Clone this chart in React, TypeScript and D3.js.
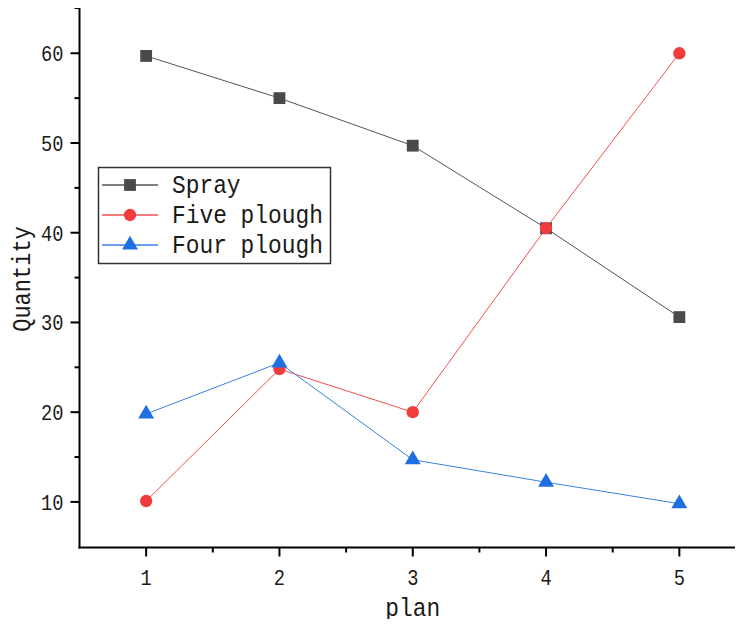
import React, { useRef, useEffect } from "react";
import * as d3 from "d3";

const plans = [1, 2, 3, 4, 5];
const spray = [59.7, 55.0, 49.7, 40.5, 30.6];
const fivePlough = [10.1, 24.8, 20.0, 40.5, 60.0];
const fourPlough = [19.8, 25.5, 14.7, 12.2, 9.8];
const yTicks = [10, 20, 30, 40, 50, 60];
const yMinor = [15, 25, 35, 45, 55];
const xMinor = [1.5, 2.5, 3.5, 4.5];

const seriesList = [
  { name: "Spray", values: spray, color: "#4a4a4a", line: "#555", symbol: d3.symbolSquare, size: 140 },
  { name: "Five plough", values: fivePlough, color: "#f03c3c", line: "#f05050", symbol: d3.symbolCircle, size: 120 },
  { name: "Four plough", values: fourPlough, color: "#1f6fe3", line: "#3a80e6", symbol: d3.symbolTriangle, size: 110 },
];

const font = "'Liberation Mono', 'DejaVu Sans Mono', monospace";

function App() {
  const ref = useRef<SVGSVGElement>(null);

  useEffect(() => {
    const svg = d3.select(ref.current);
    svg.selectAll("*").remove();

    const left = 79.5;
    const right = 746;
    const top = 7.5;
    const bottom = 547.5;

    const x = d3.scaleLinear().domain([0.5, 5.5]).range([left, right]);
    const y = d3.scaleLinear().domain([4.92, 65.1]).range([bottom, top]);

    // narrow tall text, like the original's font
    const label = (g: any, tx: number, ty: number, txt: string, size: number, anchor: string, sx: number, rot = 0) =>
      g.append("text")
        .attr("transform", `translate(${tx},${ty}) rotate(${rot}) scale(${sx},1)`)
        .attr("text-anchor", anchor).attr("font-family", font).attr("font-size", size)
        .attr("fill", "#1a1a1a").text(txt);

    // axes
    svg.append("line").attr("x1", left).attr("x2", left).attr("y1", top).attr("y2", bottom + 1)
      .attr("stroke", "#000").attr("stroke-width", 2);
    svg.append("line").attr("x1", left - 1).attr("x2", 743).attr("y1", bottom).attr("y2", bottom)
      .attr("stroke", "#000").attr("stroke-width", 2);
    svg.append("line").attr("x1", left).attr("x2", left - 5).attr("y1", top + 0.5).attr("y2", top + 0.5)
      .attr("stroke", "#000").attr("stroke-width", 2);

    const gy = svg.append("g");
    gy.selectAll("line.maj").data(yTicks).join("line")
      .attr("x1", left - 9).attr("x2", left).attr("y1", (d) => y(d)).attr("y2", (d) => y(d))
      .attr("stroke", "#000").attr("stroke-width", 2);
    gy.selectAll("line.min").data(yMinor).join("line").attr("class", "min")
      .attr("x1", left - 5).attr("x2", left).attr("y1", (d) => y(d)).attr("y2", (d) => y(d))
      .attr("stroke", "#000").attr("stroke-width", 2);
    yTicks.forEach((d) => label(gy, left - 16, y(d) + 8, String(d), 22, "end", 0.85));

    const gx = svg.append("g");
    gx.selectAll("line.maj").data(plans).join("line")
      .attr("x1", (d) => x(d)).attr("x2", (d) => x(d)).attr("y1", bottom).attr("y2", bottom + 9)
      .attr("stroke", "#000").attr("stroke-width", 2);
    gx.selectAll("line.min").data(xMinor).join("line").attr("class", "min")
      .attr("x1", (d) => x(d)).attr("x2", (d) => x(d)).attr("y1", bottom).attr("y2", bottom + 5)
      .attr("stroke", "#000").attr("stroke-width", 2);
    plans.forEach((d) => label(gx, x(d), 585, String(d), 22, "middle", 0.85));

    label(svg, x(3), 616, "plan", 26, "middle", 0.88);
    label(svg, 30, 279, "Quantity", 25, "middle", 0.88, -90);

    const line = d3.line<number>().x((_, i) => x(plans[i])).y((d) => y(d));

    seriesList.forEach((s) => {
      const g = svg.append("g");
      g.append("path").attr("d", line(s.values)).attr("fill", "none")
        .attr("stroke", s.line).attr("stroke-width", 1);
      g.selectAll("path.m").data(s.values).join("path").attr("class", "m")
        .attr("d", d3.symbol().type(s.symbol).size(s.size)())
        .attr("transform", (d, i) => `translate(${x(plans[i])},${y(d)})`)
        .attr("fill", s.color);
    });

    // legend
    const lg = svg.append("g");
    lg.append("rect").attr("x", 98.5).attr("y", 167.5).attr("width", 232).attr("height", 96)
      .attr("fill", "#fff").attr("stroke", "#333").attr("stroke-width", 1.5);
    seriesList.forEach((s, i) => {
      const cy = 185 + i * 30;
      lg.append("line").attr("x1", 102).attr("x2", 158).attr("y1", cy).attr("y2", cy)
        .attr("stroke", s.line).attr("stroke-width", 1.5);
      lg.append("path").attr("d", d3.symbol().type(s.symbol).size(s.size)())
        .attr("transform", `translate(130,${cy})`).attr("fill", s.color);
      label(lg, 172, cy + 8, s.name, 26, "start", 0.88);
    });
  }, []);

  return (
    <div style={{ margin: -8 }}>
      <svg ref={ref} width={743} height={627} style={{ display: "block", background: "#fff" }}></svg>
    </div>
  );
}

export default App;
